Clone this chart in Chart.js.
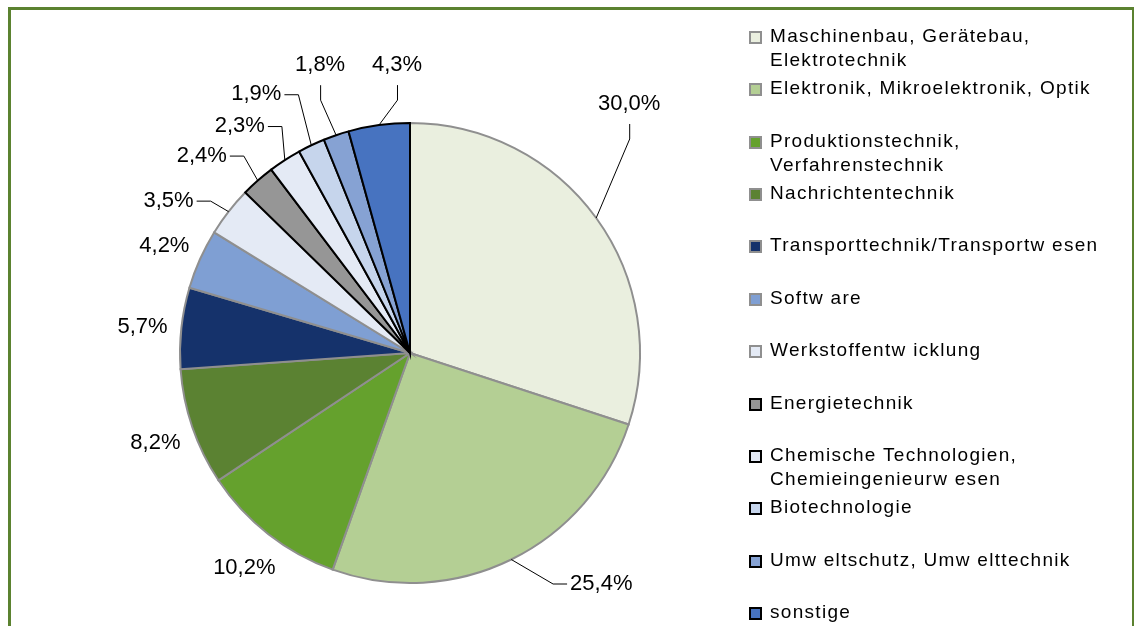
<!DOCTYPE html>
<html>
<head>
<meta charset="utf-8">
<script src="https://cdn.jsdelivr.net/npm/chart.js@4.4.1/dist/chart.umd.min.js"></script>
<style>
  html, body { margin: 0; padding: 0; background: #fff; }
  body { width: 1134px; height: 626px; position: relative; overflow: hidden; font-family: "Liberation Sans", Arial, sans-serif; }
  #frame { position: absolute; left: 8px; top: 7px; width: 1126px; height: 640px; border-top: 3px solid #5B8230; border-left: 3px solid #5B8230; border-right: 2px solid #5B8230; box-sizing: border-box; }
  #wrap { position: absolute; left: 0; top: 0; width: 1134px; height: 626px; }
  #legend { position: absolute; left: 749px; top: 0; }
  .item { position: absolute; left: 0; white-space: nowrap; font-size: 19px; letter-spacing: 1.3px; line-height: 24px; color: #000; }
  .box { position: absolute; left: 0; top: 7px; width: 9px; height: 9px; }
  .txt { position: absolute; left: 21px; top: 0; }
</style>
</head>
<body>
<div id="frame"></div>
<div id="wrap"><canvas id="c" width="1134" height="626"></canvas></div>
<div id="legend"></div>
<script>
// ---- data ----
const categories = [
  ["Maschinenbau, Gerätebau,", "Elektrotechnik"],
  ["Elektronik, Mikroelektronik, Optik"],
  ["Produktionstechnik,", "Verfahrenstechnik"],
  ["Nachrichtentechnik"],
  ["Transporttechnik/Transportw esen"],
  ["Softw are"],
  ["Werkstoffentw icklung"],
  ["Energietechnik"],
  ["Chemische Technologien,", "Chemieingenieurw esen"],
  ["Biotechnologie"],
  ["Umw eltschutz, Umw elttechnik"],
  ["sonstige"]
];
const values = [30.0, 25.4, 10.2, 8.2, 5.7, 4.2, 3.5, 2.4, 2.3, 1.9, 1.8, 4.3];
const sliceColors = ["#EAEFDF", "#B4CF94", "#65A12D", "#5B8232", "#15326B", "#7F9FD3", "#E4EAF5", "#969696", "#E4EAF5", "#C6D5EC", "#86A2D3", "#4773C0"];
const sliceBorders = ["#8F8F8F", "#8F8F8F", "#8F8F8F", "#8F8F8F", "#8F8F8F", "#8F8F8F", "#8F8F8F", "#000000", "#000000", "#000000", "#000000", "#000000"];

// label placement (style): null = radial, else offset from the slice's rim point with leader type
const labelPlacement = [
  {dx: 33, dy: -114, leader: "v"},
  {dx: 90, dy: 24, leader: "h"},
  null, null, null, null,
  {dx: -60, dy: -11, leader: "h"},
  {dx: -56, dy: -25, leader: "h"},
  {dx: -45, dy: -34, leader: "h"},
  {dx: -55, dy: -51, leader: "h"},
  {dx: -16, dy: -70, leader: "v"},
  {dx: 18, dy: -60, leader: "v"}
];

const fmt = v => v.toFixed(1).replace(".", ",") + "%";

const labelPlugin = {
  id: "pieLabels",
  afterDatasetsDraw(chart) {
    const ctx = chart.ctx;
    const meta = chart.getDatasetMeta(0);
    ctx.save();
    ctx.font = "22px 'Liberation Sans', Arial, sans-serif";
    ctx.fillStyle = "#000";
    ctx.textAlign = "center";
    ctx.textBaseline = "middle";
    ctx.strokeStyle = "#000";
    ctx.lineWidth = 1;
    meta.data.forEach((arc, i) => {
      const p = arc.getProps(["x", "y", "startAngle", "endAngle", "outerRadius"], true);
      const mid = (p.startAngle + p.endAngle) / 2;
      const txt = fmt(values[i]);
      const w = ctx.measureText(txt).width;
      const pl = labelPlacement[i];
      if (!pl) {
        const r = p.outerRadius + 39;
        ctx.fillText(txt, p.x + r * Math.cos(mid), p.y + r * Math.sin(mid) + 3);
        return;
      }
      const ex = p.x + p.outerRadius * Math.cos(mid);
      const ey = p.y + p.outerRadius * Math.sin(mid);
      const tx = ex + pl.dx, ty = ey + pl.dy;
      ctx.fillText(txt, tx, ty);
      ctx.beginPath();
      if (pl.leader === "v") {
        ctx.moveTo(tx + 0.5, ty + 20);
        ctx.lineTo(tx + 0.5, ty + 35);
        ctx.lineTo(ex, ey);
      } else {
        const s = pl.dx < 0 ? 1 : -1;
        const x0 = tx + s * (w / 2 + 3);
        const x1 = tx + s * (w / 2 + 17);
        ctx.moveTo(x0, ty + 0.5);
        ctx.lineTo(x1, ty + 0.5);
        ctx.lineTo(ex, ey);
      }
      ctx.stroke();
    });
    ctx.restore();
  }
};

new Chart(document.getElementById("c"), {
  type: "pie",
  data: {
    labels: categories.map(c => c.join(" ")),
    datasets: [{
      data: values,
      backgroundColor: sliceColors,
      borderColor: sliceBorders,
      borderWidth: 2,
      borderJoinStyle: "miter"
    }]
  },
  options: {
    responsive: false,
    animation: false,
    layout: { padding: { left: 179, right: 493, top: 122, bottom: 42 } },
    plugins: { legend: { display: false }, tooltip: { enabled: false } }
  },
  plugins: [labelPlugin]
});

// HTML legend
const leg = document.getElementById("legend");
categories.forEach((lines, i) => {
  const it = document.createElement("div");
  it.className = "item";
  it.style.top = (36 + i * 52.36 - 12) + "px";
  const b = document.createElement("div");
  b.className = "box";
  b.style.background = sliceColors[i];
  b.style.border = "2px solid " + (sliceBorders[i] === "#000000" ? "#000" : "#8F8F8F");
  const t = document.createElement("div");
  t.className = "txt";
  t.innerHTML = lines.join("<br>");
  it.appendChild(b); it.appendChild(t);
  leg.appendChild(it);
});
</script>
</body>
</html>
